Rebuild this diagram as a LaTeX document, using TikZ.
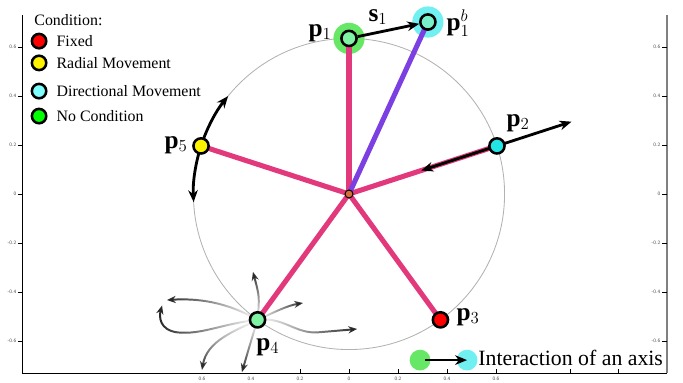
\documentclass[tikz,border=0pt]{standalone}
\usepackage{amsmath,amssymb}
\usepackage{fontspec}
\setmainfont{Liberation Serif}
\usepackage{xcolor}
\usepackage{tikz}
\usetikzlibrary{positioning,arrows.meta,fadings}

\definecolor{spokepink}{HTML}{E2387C}
\definecolor{spokeviolet}{HTML}{7B3FE2}
\definecolor{halogreen}{HTML}{66E866}
\definecolor{halocyan}{HTML}{70F0F0}
\definecolor{mint}{HTML}{80F2A4}
\definecolor{ptcyan}{HTML}{22E6E6}
\definecolor{hubbrown}{HTML}{D4703A}
\definecolor{legcyan}{HTML}{80FFFF}

\begin{document}
\begin{tikzpicture}[x=6.125cm, y=6.125cm,
  pt/.style={circle, draw, line width=1.8pt, minimum size=0.38cm, inner sep=0pt},
  halo/.style={circle, minimum size=0.78cm, inner sep=0pt},
  hub/.style={circle, draw, fill=hubbrown, line width=0.7pt, minimum size=0.2cm, inner sep=0pt},
  spoke/.style={line width=3.6pt, spokepink},
  ring/.style={gray!60, line width=0.6pt},
  plabel/.style={font=\fontsize{18}{20}\selectfont, inner sep=0pt},
  arr/.style={-{Stealth[length=3mm, width=2.4mm]}, line width=2pt},
  swirl/.style={-{Stealth[length=2.2mm, width=1.8mm]}, line width=1.4pt, black!85},
  leg/.style={circle, draw, line width=1.8pt, minimum size=0.36cm, inner sep=0pt},
  legtxt/.style={font=\fontsize{11.3}{13}\selectfont, inner sep=0pt},
  tlbl/.style={font=\sffamily\fontsize{3.6}{4}\selectfont, text=black!70, inner sep=1pt},
]
  \useasboundingbox (-1.4245,-0.7714) rectangle (1.3633,0.7918);

  \draw[line width=0.6pt] (-1.331,0.731) -- (-1.331,-0.731) -- (1.298,-0.731);
  \draw[line width=1.5pt, gray] (1.298,0.731) -- (1.298,-0.731);
  \foreach \v in {-0.6,-0.4,-0.2,0,0.2,0.4,0.6} {
    \draw[line width=0.5pt] (-1.331,\v) -- ++(-0.02,0) node[tlbl, left] {\v};
    \draw[line width=0.5pt] (1.298,\v) -- ++(-0.02,0) node[tlbl, left] {\v};
  }
  \foreach \v in {-0.2,0,0.2,0.4,0.6,0.902,1.098}
    \draw[line width=0.5pt] (\v,-0.731) -- ++(0,0.016);
  \foreach \v/\t in {-0.6/0.6,-0.4/0.4,-0.2/0.2,0/0,0.2/0.2,0.4/0.4,0.6/0.6}
    \node[tlbl] at (\v,-0.755) {\t};

  \node[legtxt, anchor=west] (ltitle) at (-1.285,0.710) {Condition:};
  \node[leg, fill=red] (lfix) at (-1.265,0.624) {};
  \node[leg, fill=yellow] (lrad) at (-1.265,0.535) {};
  \node[leg, fill=legcyan] (ldir) at (-1.265,0.420) {};
  \node[leg, fill=green] (lnone) at (-1.265,0.318) {};
  \node[legtxt, right=2.2mm of lfix] {Fixed};
  \node[legtxt, right=2.2mm of lrad] {Radial Movement};
  \node[legtxt, right=2.2mm of ldir] {Directional Movement};
  \node[legtxt, right=2.2mm of lnone] {No Condition};

  \coordinate (o) at (0,0);
  \coordinate (c1) at (90:0.635);
  \coordinate (c2) at (18:0.635);
  \coordinate (c3) at (-54:0.635);
  \coordinate (c4) at (234:0.635);
  \coordinate (c5) at (162:0.635);
  \coordinate (c1b) at (0.322,0.702);
  \coordinate (d2out) at (18:0.955);
  \coordinate (d2in) at (18:0.31);

  \draw[ring] (o) circle[radius=0.635];
  \node[halo, fill=halogreen] (h1) at (c1) {};
  \node[halo, fill=halocyan] (h1b) at (c1b) {};
  \foreach \k in {1,...,5}
    \draw[spoke] (o) -- (c\k);
  \draw[spoke, spokeviolet] (o) -- (c1b);

  \draw[arr] (c2) -- (d2out);
  \draw[arr] (c2) -- (d2in);
  \draw[arr] (c5) arc[start angle=162, end angle=141, radius=0.635];
  \draw[arr] (c5) arc[start angle=162, end angle=183, radius=0.635];

  \draw[swirl, path fading=south] (c4) .. controls (-0.365,-0.42) .. (-0.392,-0.318);
  \draw[swirl, path fading=east] (c4) .. controls (-0.50,-0.44) and (-0.62,-0.425) .. (-0.743,-0.433);
  \draw[swirl, path fading=east] (c4) .. controls (-0.52,-0.53) and (-0.60,-0.575) .. (-0.70,-0.565)
    .. controls (-0.775,-0.555) and (-0.775,-0.50) .. (-0.763,-0.455);
  \draw[swirl, path fading=west] (c4) .. controls (-0.30,-0.48) and (-0.25,-0.455) .. (-0.188,-0.445);
  \draw[swirl, path fading=west] (c4) .. controls (-0.27,-0.50) and (-0.22,-0.57) .. (-0.13,-0.565)
    .. controls (-0.06,-0.56) .. (0.033,-0.551);
  \draw[swirl, path fading=north] (c4) .. controls (-0.47,-0.56) and (-0.58,-0.60) .. (-0.600,-0.718);
  \draw[swirl, path fading=north] (c4) .. controls (-0.40,-0.60) .. (-0.437,-0.727);

  \node[pt, fill=mint] (p1) at (c1) {};
  \node[pt, fill=mint!50!halocyan] (p1b) at (c1b) {};
  \node[pt, fill=ptcyan] (p2) at (c2) {};
  \node[pt, fill=red] (p3) at (c3) {};
  \node[pt, fill=mint] (p4) at (c4) {};
  \node[pt, fill=yellow] (p5) at (c5) {};
  \node[hub] (hub) at (o) {};
  \draw[arr] (p1) -- (p1b);

  \node[plabel] (lp1) at (-0.118,0.657) {$\mathbf{p}_1$};
  \node[plabel] (ls1) at (0.118,0.722) {$\mathbf{s}_1$};
  \node[plabel] (lp1b) at (0.445,0.698) {$\mathbf{p}_1^b$};
  \node[plabel] (lp2) at (0.690,0.290) {$\mathbf{p}_2$};
  \node[plabel] (lp3) at (0.486,-0.502) {$\mathbf{p}_3$};
  \node[plabel] (lp4) at (-0.331,-0.624) {$\mathbf{p}_4$};
  \node[plabel] (lp5) at (-0.706,0.200) {$\mathbf{p}_5$};

  \node[circle, fill=halogreen, minimum size=0.52cm, inner sep=0pt] (ig) at (0.290,-0.678) {};
  \node[circle, fill=halocyan, minimum size=0.52cm, inner sep=0pt] (ic) at (0.482,-0.678) {};
  \draw[arr, shorten <=1.3mm] (ig.center) -- (ic.center);
  \node[anchor=base west, inner sep=0pt, font=\fontsize{15.5}{17}\selectfont] (itxt) at (0.527,-0.702) {Interaction of an axis};
\end{tikzpicture}
\end{document}
